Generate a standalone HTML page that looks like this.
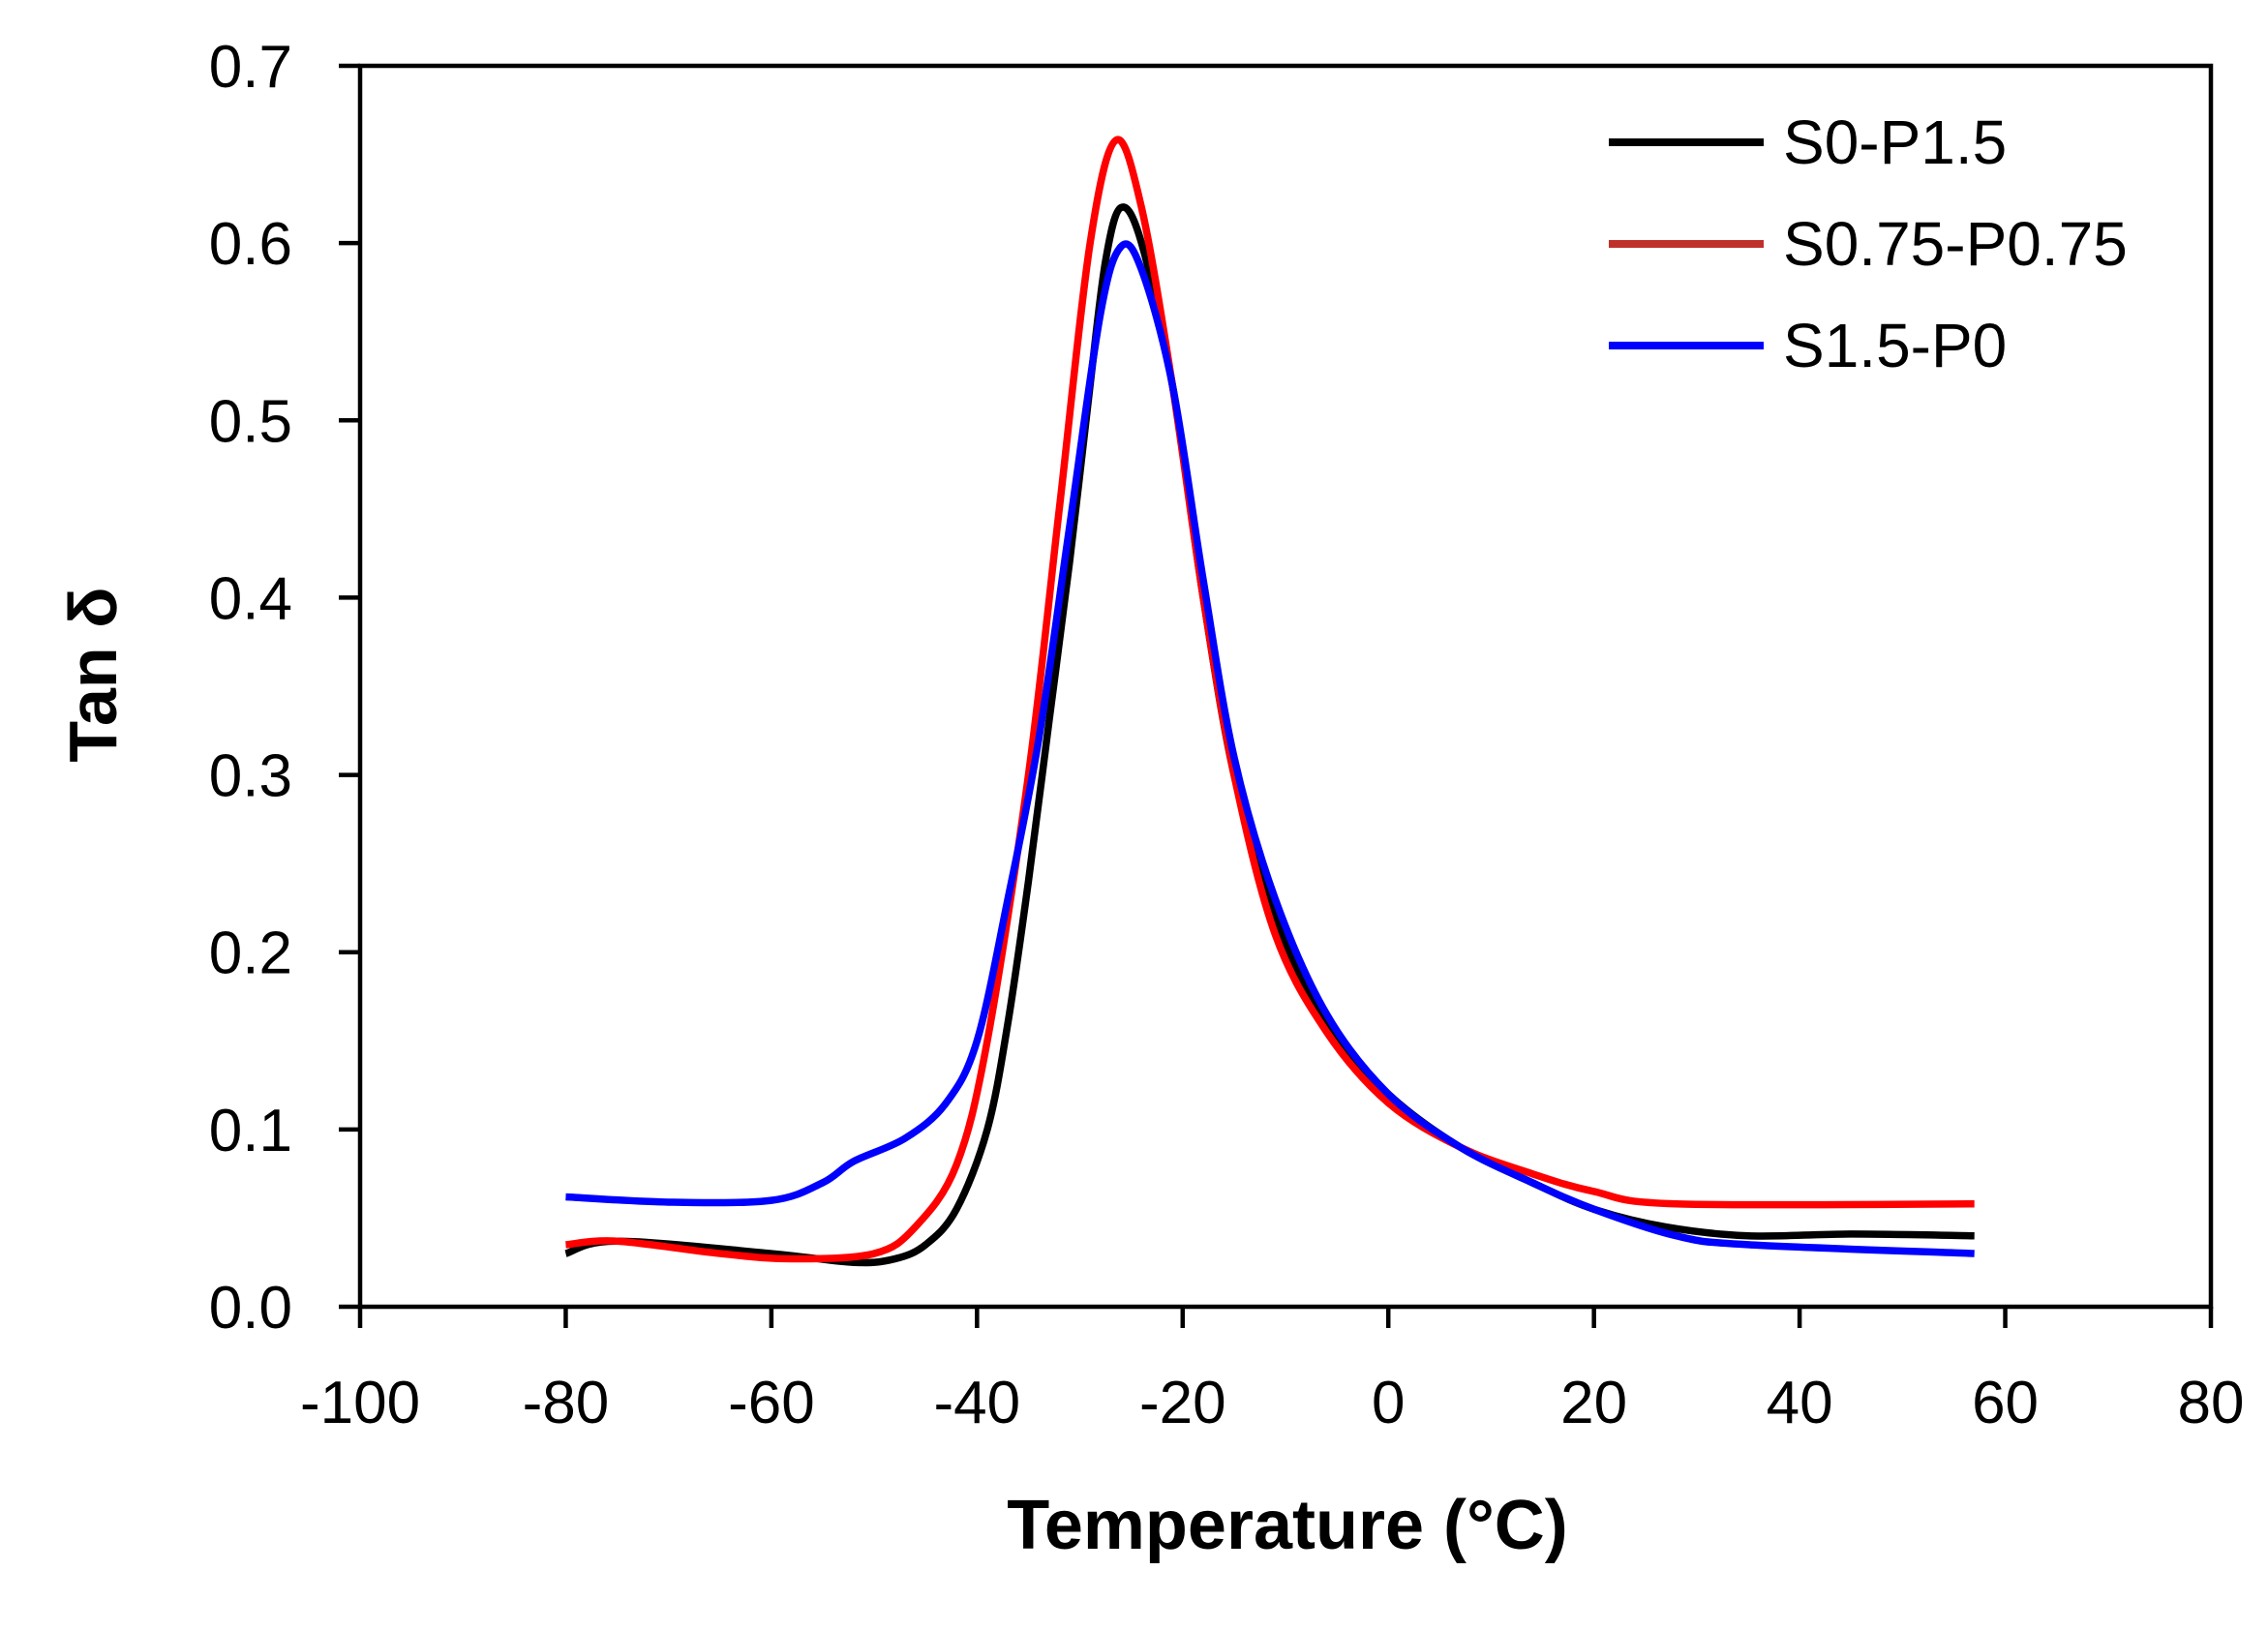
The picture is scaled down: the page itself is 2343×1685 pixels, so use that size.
<!DOCTYPE html>
<html><head><meta charset="utf-8"><style>
body{margin:0;background:#fff;}
svg text{font-family:"Liberation Sans",sans-serif;}
</style></head><body>
<svg id="chart" width="2343" height="1680" viewBox="0 0 2343 1680">
<g id="axes"></g><g id="series"></g><g id="legend"></g>
</svg>
<script>
const xTicks=[-100,-80,-60,-40,-20,0,20,40,60,80];
const yTicks=[0.0,0.1,0.2,0.3,0.4,0.5,0.6,0.7];
const seriesNames=["S0-P1.5","S0.75-P0.75","S1.5-P0"];
const blackT=[-80,-75,-60,-52,-48,-45,-42,-39,-37,-35,-33,-31,-29,-27.5,-26,-24,-21,-18,-15,-11,-6,0,7,14,20,27,35,45,57];
const blackV=[0.03,0.037,0.03,0.025,0.027,0.035,0.055,0.1,0.16,0.24,0.33,0.42,0.52,0.59,0.62,0.6,0.52,0.4,0.3,0.22,0.16,0.12,0.09,0.07,0.055,0.045,0.04,0.041,0.04];
const redT=[-80,-75,-65,-58,-50,-46,-42,-39,-35,-32,-29,-26.5,-24,-21,-18,-15,-11,-6,0,7,14,20,28,57];
const redV=[0.035,0.037,0.03,0.027,0.03,0.045,0.08,0.15,0.3,0.45,0.6,0.658,0.62,0.52,0.4,0.3,0.21,0.155,0.115,0.09,0.075,0.065,0.058,0.058];
const blueT=[-80,-70,-60,-55,-52,-47,-43,-40,-37,-34,-31,-28,-26,-24,-21,-18,-15,-11,-6,0,7,14,20,28,35,57];
const blueV=[0.062,0.059,0.06,0.07,0.082,0.095,0.115,0.15,0.23,0.32,0.44,0.56,0.598,0.585,0.52,0.41,0.31,0.23,0.165,0.12,0.09,0.07,0.055,0.04,0.035,0.03];

const NS="http://www.w3.org/2000/svg";
const X0=372,X1=2284,Y0=1350,Y1=68;
const xs=v=>X0+(v+100)/180*(X1-X0);
const ys=v=>Y0-v/0.7*(Y0-Y1);
function mk(tag,attrs,parent){const e=document.createElementNS(NS,tag);for(const k in attrs)e.setAttribute(k,attrs[k]);parent.appendChild(e);return e;}
const axes=document.getElementById('axes');
const frame=mk('rect',{x:X0,y:Y1,width:X1-X0,height:Y0-Y1,fill:'none',stroke:'#000','stroke-width':4.5},axes);


xTicks.forEach(t=>{
  const l=mk('line',{x1:xs(t),x2:xs(t),y1:Y0,y2:Y0+22,stroke:'#000','stroke-width':4.5},axes);
  
  
  const tx=mk('text',{x:xs(t),y:1470,'text-anchor':'middle','font-size':62},axes);
  tx.textContent=String(t);
  
  
});
yTicks.forEach(t=>{
  const l=mk('line',{x1:X0-22,x2:X0,y1:ys(t),y2:ys(t),stroke:'#000','stroke-width':4.5},axes);
  
  
  const tx=mk('text',{x:302,y:ys(t)+22,'text-anchor':'end','font-size':62},axes);
  tx.textContent=t.toFixed(1);
  
  
});
const xt=mk('text',{x:1330,y:1600,'text-anchor':'middle','font-size':72,'font-weight':'bold'},axes);
xt.textContent='Temperature (°C)';


const yt=mk('text',{x:0,y:0,'text-anchor':'middle','font-size':70,'font-weight':'bold',transform:'translate(120,697) rotate(-90)'},axes);
yt.textContent='Tan δ';



function pathD(T,V){
  const p=T.map((t,i)=>[xs(t),ys(V[i])]);
  let d='M'+p[0][0]+','+p[0][1];
  for(let i=0;i<p.length-1;i++){
    const a=p[Math.max(0,i-1)],b=p[i],c=p[i+1],e=p[Math.min(p.length-1,i+2)];
    const c1=[b[0]+(c[0]-a[0])/6,b[1]+(c[1]-a[1])/6],c2=[c[0]-(e[0]-b[0])/6,c[1]-(e[1]-b[1])/6];
    d+=' C'+c1+' '+c2+' '+c;
  }
  return d;
}
const sg=document.getElementById('series');
const colors=['#000','#ff0000','#0000ff'];
const data=[[blackT,blackV],[redT,redV],[blueT,blueV]];
const lg=document.getElementById('legend');
data.forEach((s,i)=>{
  const p=mk('path',{d:pathD(s[0],s[1]),fill:'none',stroke:colors[i],'stroke-width':7.5,'stroke-linejoin':'round'},sg);
  
  
  const y=147+i*105;
  const ll=mk('line',{x1:1662,x2:1822,y1:y,y2:y,stroke:i==1?'#c0302a':colors[i],'stroke-width':8},lg);
  
  
  const lt=mk('text',{x:1842,y:y+22,'font-size':64},lg);
  lt.textContent=seriesNames[i];
  
  
});
</script>
</body></html>
